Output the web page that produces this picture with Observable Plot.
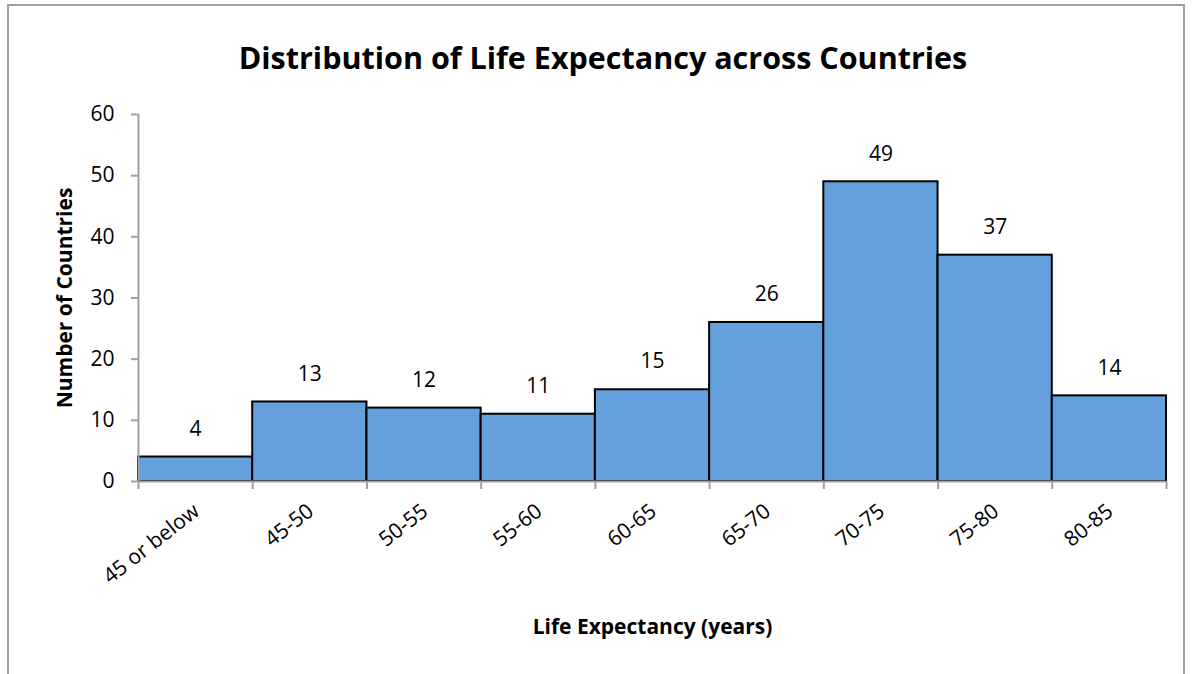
<!DOCTYPE html>
<html>
<head>
<meta charset="utf-8">
<script src="https://cdn.jsdelivr.net/npm/d3@7"></script>
<script src="https://cdn.jsdelivr.net/npm/@observablehq/plot@0.6"></script>
<style>
  html, body { margin: 0; padding: 0; background: #fff; }
  #wrap { position: relative; width: 1193px; height: 674px; overflow: hidden; font-family: "Open Sans", sans-serif; }
  #frame { position: absolute; left: 7px; top: 4px; width: 1178px; height: 700px; border: 2px solid #a0a0a0; box-sizing: border-box; }
  #title { position: absolute; left: 0; width: 1206px; top: 36px; text-align: center; font-weight: bold; font-size: 30.5px; color: #000; }
  #chart { position: absolute; left: 0; top: 0; }
</style>
</head>
<body>
<div id="wrap">
  <div id="frame"></div>
  <div id="title">Distribution of Life Expectancy across Countries</div>
  <div id="chart"></div>
</div>
<script>
const categories = ["45 or below", "45-50", "50-55", "55-60", "60-65", "65-70", "70-75", "75-80", "80-85"];
const counts = [4, 13, 12, 11, 15, 26, 49, 37, 14];
const yTicks = [0, 10, 20, 30, 40, 50, 60];

const data = categories.map((c, i) => ({ cat: c, i, count: counts[i] }));
const boundaries = d3.range(categories.length + 1);

const font = "Open Sans, sans-serif";
const plot = Plot.plot({
  width: 1193,
  height: 674,
  marginLeft: 138,
  marginRight: 27,
  marginTop: 114,
  marginBottom: 193,
  style: { fontFamily: font, fontSize: "21px", color: "#000", background: "transparent", overflow: "visible" },
  x: { domain: [0, categories.length], axis: null },
  y: { domain: [0, 60], axis: null },
  marks: [
    Plot.rect(data, { x1: d => d.i, x2: d => d.i + 1, y1: 0, y2: "count", fill: "#64A0DC", stroke: "#000", strokeWidth: 2 }),
    Plot.ruleY([0], { stroke: "#a0a0a0", strokeWidth: 2 }),
    Plot.ruleX([0], { stroke: "#a0a0a0", strokeWidth: 2 }),
    Plot.axisX({ ticks: boundaries, tickSize: 8, tickFormat: () => "", stroke: "#a0a0a0", strokeWidth: 2, label: null }),
    Plot.axisY({ ticks: yTicks, tickSize: 7, tickPadding: 17, stroke: "#a0a0a0", strokeWidth: 2, fill: "#000", fontSize: 21, label: null }),
    Plot.text(data, { x: d => d.i + 0.5, y: "count", text: d => String(d.count), dy: -28, fontSize: 21, fill: "#000" }),
    Plot.text(data, { x: d => d.i + 0.5, y: 0, text: "cat", rotate: -38, textAnchor: "end", dy: 27, dx: 1, fontSize: 21, fill: "#000" }),
    Plot.text(["Number of Countries"], { frameAnchor: "left", textAnchor: "middle", dx: -73, rotate: -90, fontWeight: "bold", fontSize: 21, fill: "#000" }),
    Plot.text(["Life Expectancy (years)"], { frameAnchor: "bottom", textAnchor: "middle", dy: 152, fontWeight: "bold", fontSize: 21, fill: "#000" })
  ]
});
document.getElementById("chart").appendChild(plot);
</script>
</body>
</html>
